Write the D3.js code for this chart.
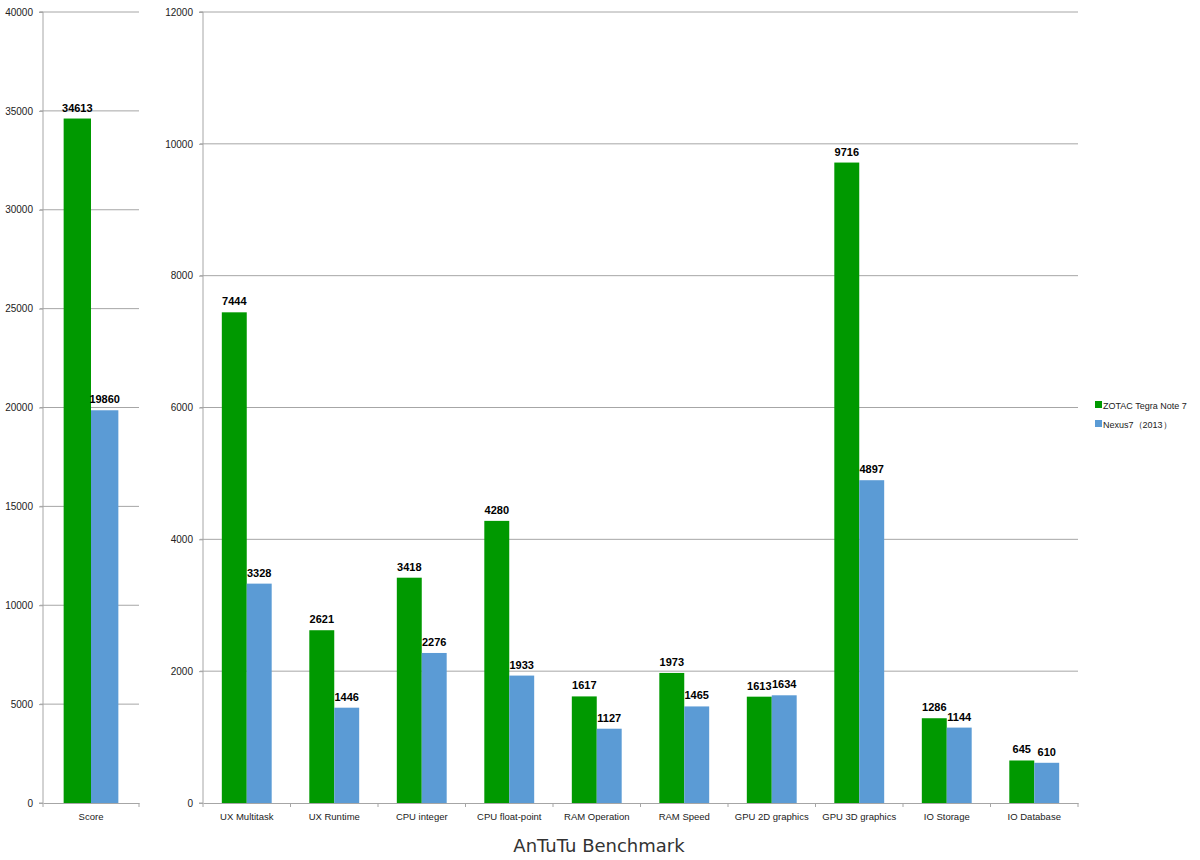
<!DOCTYPE html>
<html>
<head>
<meta charset="utf-8">
<script src="https://cdn.jsdelivr.net/npm/d3@7/dist/d3.min.js"></script>
<style>
  body { margin: 0; background: #fff; }
  text { font-family: "Liberation Sans", Arial, sans-serif; }
</style>
</head>
<body>
<div id="chart"></div>
<script>
// data
const seriesNames = ["ZOTAC Tegra Note 7", "Nexus7\uFF082013\uFF09"];
const scoreCats = ["Score"];
const scoreZotac = [34613];
const scoreNexus = [19860];
const detailCats = ["UX Multitask", "UX Runtime", "CPU integer", "CPU float-point", "RAM Operation",
  "RAM Speed", "GPU 2D graphics", "GPU 3D graphics", "IO Storage", "IO Database"];
const detailZotac = [7444, 2621, 3418, 4280, 1617, 1973, 1613, 9716, 1286, 645];
const detailNexus = [3328, 1446, 2276, 1933, 1127, 1465, 1634, 4897, 1144, 610];
const scoreTicks = [0, 5000, 10000, 15000, 20000, 25000, 30000, 35000, 40000];
const detailTicks = [0, 2000, 4000, 6000, 8000, 10000, 12000];

const colors = ["#009900", "#5b9bd5"];

const svg = d3.select("#chart")
    .append("svg")
    .attr("width", 1200)
    .attr("height", 860);

function panel(cats, zotac, nexus, ticks, x0, x1, gridX0) {
    const y = d3.scaleLinear().domain([0, ticks[ticks.length - 1]]).range([803, 12]);
    const x = d3.scaleBand().domain(cats).range([x0, x1]).paddingInner(0).paddingOuter(0);
    const g = svg.append("g");

    // gridlines
    g.selectAll("line.grid")
        .data(ticks.slice(1))
        .join("line")
        .attr("class", "grid")
        .attr("x1", gridX0).attr("x2", x1)
        .attr("y1", d => y(d)).attr("y2", d => y(d))
        .attr("stroke", "#a6a6a6").attr("stroke-width", 1);

    // y axis
    const ya = g.append("g")
        .attr("transform", `translate(${x0},0)`)
        .call(d3.axisLeft(y).tickValues(ticks).tickSize(4).tickPadding(6).tickFormat(d3.format("d")));
    ya.select(".domain").attr("stroke", "#a6a6a6").attr("d", `M-4,${y(0)}H0V${y.range()[1]}H-4`);
    ya.selectAll(".tick line").attr("stroke", "#a6a6a6");
    ya.selectAll(".tick text").attr("font-size", 10).attr("fill", "#222");

    // x axis
    const xa = g.append("g")
        .attr("transform", `translate(0,${y(0)})`)
        .call(d3.axisBottom(x).tickSize(0).tickPadding(10));
    xa.select(".domain").attr("stroke", "#a6a6a6");
    xa.selectAll(".tick text").attr("font-size", 9.5).attr("fill", "#222");
    g.selectAll("line.xtick")
        .data(cats.map((c, i) => x0 + i * x.bandwidth()).concat([x1]))
        .join("line")
        .attr("class", "xtick")
        .attr("x1", d => d).attr("x2", d => d)
        .attr("y1", y(0)).attr("y2", y(0) + 4)
        .attr("stroke", "#a6a6a6");

    const groupW = x.bandwidth() * 0.57;
    const barW = groupW / 2;
    const rows = cats.map((c, i) => [
        { c, s: 0, v: zotac[i] },
        { c, s: 1, v: nexus[i] }
    ]).flat();

    g.selectAll("rect.bar")
        .data(rows)
        .join("rect")
        .attr("class", "bar")
        .attr("x", d => x(d.c) + (x.bandwidth() - groupW) / 2 + d.s * barW)
        .attr("width", barW)
        .attr("y", d => y(d.v))
        .attr("height", d => y(0) - y(d.v))
        .attr("fill", d => colors[d.s]);

    g.selectAll("text.val")
        .data(rows)
        .join("text")
        .attr("class", "val")
        .attr("x", d => x(d.c) + (x.bandwidth() - groupW) / 2 + d.s * barW + barW / 2)
        .attr("y", d => y(d.v) - 7)
        .attr("text-anchor", "middle")
        .attr("font-size", 11)
        .attr("font-weight", "bold")
        .attr("fill", "#000")
        .text(d => d.v);
}

panel(scoreCats, scoreZotac, scoreNexus, scoreTicks, 43, 139, 40);
panel(detailCats, detailZotac, detailNexus, detailTicks, 203, 1078, 200);

// legend
const legend = svg.append("g").attr("transform", "translate(1095,401)");
legend.selectAll("rect")
    .data(seriesNames)
    .join("rect")
    .attr("x", 0).attr("y", (d, i) => i * 19)
    .attr("width", 7).attr("height", 7)
    .attr("fill", (d, i) => colors[i]);
legend.selectAll("text")
    .data(seriesNames)
    .join("text")
    .attr("x", 8).attr("y", (d, i) => i * 19 + 7.5)
    .attr("font-size", 9)
    .attr("fill", "#222")
    .text(d => d);

// title
svg.append("text")
    .attr("x", 599).attr("y", 852)
    .attr("text-anchor", "middle")
    .style("font-family", "'DejaVu Sans', sans-serif")
    .attr("font-size", 18)
    .attr("fill", "#333")
    .text("AnTuTu Benchmark");
</script>
</body>
</html>
